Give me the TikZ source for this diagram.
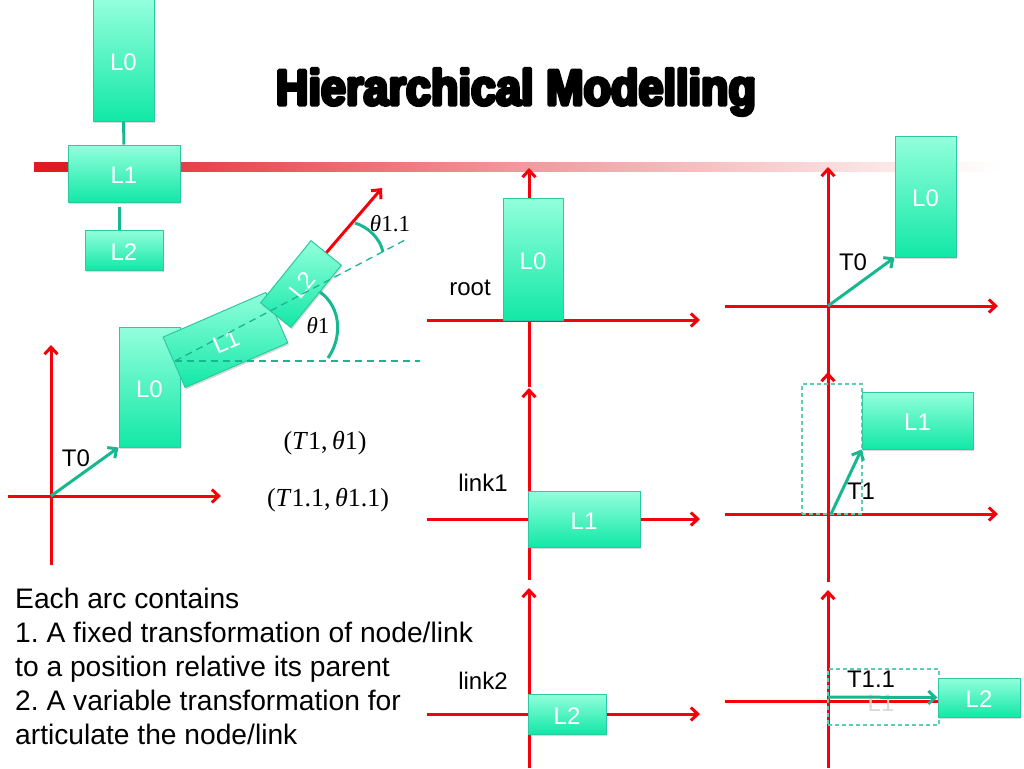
\documentclass[tikz,border=0pt]{standalone}
\usepackage{fontspec}
\setmainfont{Liberation Sans}
\newfontfamily\serifmath{Liberation Serif}
\newfontfamily\titlefont[FakeBold=7,FakeStretch=0.9]{Liberation Sans Bold}
\usetikzlibrary{arrows.meta,backgrounds,shadows,positioning}
\definecolor{linkedge}{HTML}{2CC9A2}
\definecolor{linktop}{HTML}{93FFDC}
\definecolor{linkbottom}{HTML}{12E8A6}
\definecolor{armteal}{HTML}{17B890}
\definecolor{axisred}{HTML}{F5000B}
\definecolor{barred}{HTML}{E01A22}
\begin{document}
\begin{tikzpicture}[x=1pt,y=-1pt,>={Straight Barb[length=7pt,width=13pt,line width=3pt]}]
\tikzstyle{link}=[rectangle,draw=linkedge,line width=1pt,top color=linktop,bottom color=linkbottom,text=white,font=\fontsize{24}{28}\selectfont,inner sep=0pt,text height=20pt,text depth=0pt,drop shadow={shadow xshift=1pt,shadow yshift=-2pt,opacity=.3}]
\tikzstyle{axis}=[->,axisred,line width=3pt]
\tikzstyle{arm}=[armteal,line width=3pt]
\tikzstyle{guide}=[armteal,dash pattern=on 7pt off 5pt,line width=1.3pt]
\tikzstyle{ghost}=[rectangle,draw=armteal!70,dash pattern=on 4pt off 3pt,line width=1.1pt,inner sep=0pt]
\tikzstyle{lab}=[font=\fontsize{24}{28}\selectfont,inner sep=0pt]
\tikzstyle{angle}=[font=\serifmath\fontsize{23}{28}\selectfont,inner sep=0pt]
\tikzstyle{pair}=[font=\serifmath\fontsize{26}{30}\selectfont,inner sep=0pt]

\useasboundingbox (0,0) rectangle (1024,768);

\node[font=\titlefont\fontsize{50}{56}\selectfont,inner sep=0pt,line join=bevel] (title) at (516,92) {\pgfsetbeveljoin Hierarchical Modelling};

% tree
\node[link,minimum width=61,minimum height=121] (treeL0) at (123.5,60.5) {L0};
\node[link,minimum width=112,minimum height=57] (treeL1) at (124,173.5) {L1};
\node[link,minimum width=78,minimum height=40] (treeL2) at (124,250) {L2};
\draw[arm] (treeL0.south) -- (treeL1.north);
\draw[arm] ([xshift=-5,yshift=-4]treeL1.south) -- ([xshift=-5]treeL2.north);

% jointed arm
\node[link,minimum width=61,minimum height=120] (armL0) at (149.5,387) {L0};
\node[link,minimum width=112,minimum height=55,rotate=23.5] (armL1) at (225.5,340) {L1};
\node[link,minimum width=80,minimum height=39,rotate=51] (armL2) at (301,284) {L2};
\coordinate (origin) at (51,496);
\coordinate (hinge) at (175,361);
\coordinate (flat) at (420,361);
\coordinate (slope) at (405,240);
\coordinate (tiptilt) at (382,188);
\draw[guide] (hinge) -- (flat);
\draw[guide] (hinge) -- (slope);
\draw[axis] (armL2.east) -- (tiptilt);
\draw[->,arm] (origin) -- (armL0.south west);
\coordinate (arcA) at (328,358);
\coordinate (arcB) at (320,292);
\coordinate (arcC) at (355,223);
\coordinate (arcD) at (383,252);
\draw[arm] (arcA) .. controls (342,338) and (342,308) .. (arcB);
\draw[arm] (arcC) .. controls (368,227) and (380,238) .. (arcD);
\node[angle] (th1) at (318,326) {\textit{θ}1};
\node[angle] (th11) at (390,224) {\textit{θ}1.1};
\node[lab] (t0arm) at (76,458) {T0};
\node[pair] (pair1) at (325,443) {(\textit{T}1,\,\textit{θ}1)};
\node[pair] (pair2) at (328,500) {(\textit{T}1.1,\,\textit{θ}1.1)};

% middle column
\node[link,minimum width=60,minimum height=122] (rootL0) at (533,259) {L0};
\node[link,minimum width=112,minimum height=56] (midL1) at (584,519) {L1};
\node[link,minimum width=78,minimum height=40] (midL2) at (567,714) {L2};
\node[lab] (rootlab) at (470,288) {root};
\node[lab] (link1lab) at (483,483) {link1};
\node[lab] (link2lab) at (483,681) {link2};

% right column
\node[link,minimum width=61,minimum height=121] (rightL0) at (925.5,196.5) {L0};
\node[ghost,minimum width=60,minimum height=130] (ghostL0) at (832,449) {};
\node[link,minimum width=111,minimum height=57] (rightL1) at (917.5,420.5) {L1};
\node[ghost,minimum width=111,minimum height=56] (ghostL1) at (883.5,697) {};
\node[lab,text=gray!30] (ghosttext) at (881,703) {L1};
\node[link,minimum width=82,minimum height=39] (rightL2) at (979,697.5) {L2};
\coordinate (rightO0) at (828,306);
\coordinate (rightO1) at (831,514);
\coordinate (rightO2) at (828,697);
\draw[->,arm] (rightO0) -- (rightL0.south west);
\draw[->,arm] (rightO1) -- (rightL1.south west);
\draw[->,arm] (rightO2) -- (rightL2.west);
\node[lab] (t0right) at (853,262) {T0};
\node[lab] (t1right) at (861,491) {T1};
\node[lab] (t11right) at (871,679) {T1.1};

\node[font=\fontsize{28.2}{34}\selectfont\frenchspacing,align=left,anchor=north west,inner sep=0pt] (arctext) at (15,588) {Each arc contains\\1. A fixed transformation of node/link\\to a position relative its parent\\2. A variable transformation for\\articulate the node/link};

\begin{scope}[on background layer]
\shade[left color=barred,right color=white,middle color=barred!45] (34,162) rectangle (1000,171);
\fill[barred] (34,162) rectangle (100,171);
% axes
\coordinate (a1w) at (8,496);
\coordinate (a1e) at (221,496);
\coordinate (a1s) at (51,565);
\coordinate (a1n) at (51,345);
\coordinate (b1w) at (427,320);
\coordinate (b1e) at (700,320);
\coordinate (b1s) at (529,387);
\coordinate (b1n) at (529,168);
\coordinate (b2w) at (427,519);
\coordinate (b2e) at (700,519);
\coordinate (b2s) at (529,580);
\coordinate (b2n) at (529,388);
\coordinate (b3w) at (427,714);
\coordinate (b3e) at (700,714);
\coordinate (b3s) at (529,768);
\coordinate (b3n) at (529,588);
\coordinate (c1w) at (725,306);
\coordinate (c1e) at (998,306);
\coordinate (c1s) at (828,386);
\coordinate (c1n) at (828,167);
\coordinate (c2w) at (725,514);
\coordinate (c2e) at (998,514);
\coordinate (c2s) at (828,582);
\coordinate (c2n) at (828,372);
\coordinate (c3w) at (725,701);
\coordinate (c3s) at (828,768);
\coordinate (c3n) at (828,590);
\draw[axis] (a1w) -- (a1e);
\draw[axis] (a1s) -- (a1n);
\foreach \col/\row in {b/1,b/2,b/3,c/1,c/2}
  \draw[axis] (\col\row w) -- (\col\row e);
\foreach \col/\row in {b/1,b/2,b/3,c/1,c/2,c/3}
  \draw[axis] (\col\row s) -- (\col\row n);
\draw[axisred,line width=3pt] (c3w) -- (rightL2.west |- c3w);
\end{scope}
\end{tikzpicture}
\end{document}
